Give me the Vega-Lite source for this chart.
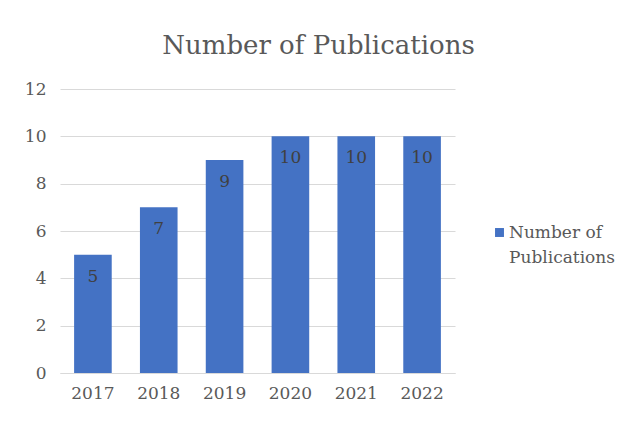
{
  "$schema": "https://vega.github.io/schema/vega-lite/v6.json",
  "width": 395,
  "height": 284,
  "autosize": {"type": "none"},
  "padding": {"left": 60, "top": 89, "right": 174, "bottom": 50},
  "background": "white",
  "title": {
    "text": "Number of Publications",
    "font": "DejaVu Serif",
    "fontSize": 26,
    "fontWeight": "normal",
    "color": "#595959",
    "anchor": "middle",
    "dx": 61,
    "offset": 21
  },
  "data": {
    "values": [
      {"year": "2017", "count": 5, "series": "Number of Publications"},
      {"year": "2018", "count": 7, "series": "Number of Publications"},
      {"year": "2019", "count": 9, "series": "Number of Publications"},
      {"year": "2020", "count": 10, "series": "Number of Publications"},
      {"year": "2021", "count": 10, "series": "Number of Publications"},
      {"year": "2022", "count": 10, "series": "Number of Publications"}
    ]
  },
  "encoding": {
    "x": {
      "field": "year",
      "type": "ordinal",
      "title": null,
      "scale": {"paddingInner": 0.4286, "paddingOuter": 0.2143},
      "axis": {
        "labelAngle": 0,
        "labelFont": "DejaVu Serif",
        "labelFontSize": 17,
        "labelColor": "#595959",
        "labelPadding": 12,
        "ticks": false,
        "domainColor": "#d9d9d9",
        "domainWidth": 1
      }
    },
    "y": {
      "field": "count",
      "type": "quantitative",
      "title": null,
      "scale": {"domain": [0, 12]},
      "axis": {
        "values": [0, 2, 4, 6, 8, 10, 12],
        "labelFont": "DejaVu Serif",
        "labelFontSize": 17,
        "labelColor": "#595959",
        "labelPadding": 14,
        "ticks": false,
        "domain": false,
        "gridColor": "#d9d9d9",
        "gridWidth": 1
      }
    }
  },
  "layer": [
    {
      "mark": {"type": "bar", "color": "#4472C4"},
      "encoding": {
        "color": {
          "field": "series",
          "type": "nominal",
          "scale": {"range": ["#4472C4"]},
          "legend": {
            "title": null,
            "orient": "none",
            "legendX": 431,
            "legendY": 135,
            "symbolType": "square",
            "symbolSize": 80,
            "symbolStrokeWidth": 0,
            "labelFont": "DejaVu Serif",
            "labelFontSize": 17,
            "labelColor": "#595959",
            "labelOffset": 1,
            "labelLimit": 200,
            "labelExpr": "['Number of', 'Publications']",
            "encode": {"labels": {"update": {"lineHeight": {"value": 25}}}}
          }
        }
      }
    },
    {
      "mark": {
        "type": "text",
        "baseline": "middle",
        "dy": 22,
        "font": "DejaVu Serif",
        "fontSize": 17,
        "color": "#404040"
      },
      "encoding": {"text": {"field": "count", "type": "quantitative"}}
    }
  ],
  "config": {"view": {"stroke": null}}
}
